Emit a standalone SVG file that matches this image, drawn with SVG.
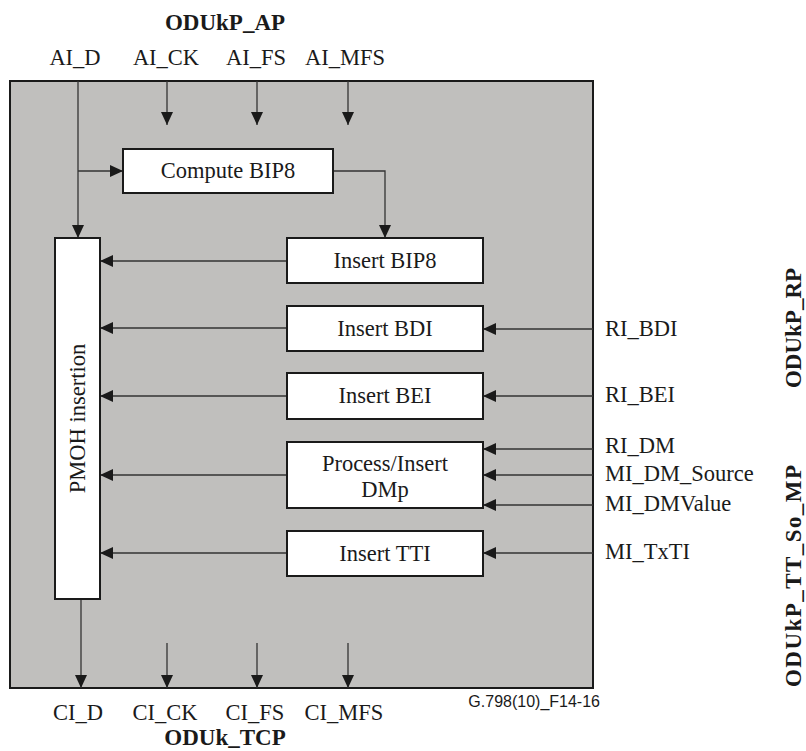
<svg xmlns="http://www.w3.org/2000/svg" width="806" height="751" viewBox="0 0 806 751">
<defs>
<marker id="ah" markerUnits="userSpaceOnUse" markerWidth="14" markerHeight="12" refX="13" refY="6" orient="auto">
<path d="M0,0 L13,6 L0,12 Z" fill="#1a1a1a"/>
</marker>
<style>
.t{font-family:"Liberation Serif","Times New Roman",serif;font-size:22.5px;fill:#1a1a1a}
.b{font-family:"Liberation Serif","Times New Roman",serif;font-size:23px;font-weight:bold;fill:#1a1a1a}
.s{font-family:"Liberation Sans",Arial,sans-serif;font-size:16px;fill:#1a1a1a}
.box{fill:#ffffff;stroke:#1a1a1a;stroke-width:2}
.ln{fill:none;stroke:#333333;stroke-width:1.3;marker-end:url(#ah)}
</style>
</defs>
<rect x="0" y="0" width="806" height="751" fill="#ffffff"/>
<g id="frame">
<rect x="10" y="81" width="583" height="607" fill="#c0bfbd" stroke="#1a1a1a" stroke-width="2"/>
</g>
<g id="connectors">
<path class="ln" d="M78,81 V238"/>
<path class="ln" d="M78,171 H123"/>
<path class="ln" d="M167,81 V125"/>
<path class="ln" d="M257,81 V125"/>
<path class="ln" d="M348,81 V125"/>
<path class="ln" d="M333,171 H385 V238"/>
<path class="ln" d="M287,261 H100"/>
<path class="ln" d="M287,328 H100"/>
<path class="ln" d="M287,396 H100"/>
<path class="ln" d="M287,475 H100"/>
<path class="ln" d="M287,553 H100"/>
<path class="ln" d="M593,329 H483"/>
<path class="ln" d="M593,396 H483"/>
<path class="ln" d="M593,449 H483"/>
<path class="ln" d="M593,475 H483"/>
<path class="ln" d="M593,505 H483"/>
<path class="ln" d="M593,553 H483"/>
<path class="ln" d="M81,599 V688"/>
<path class="ln" d="M167,643 V688"/>
<path class="ln" d="M257,643 V688"/>
<path class="ln" d="M348,643 V688"/>
</g>
<g id="compute-bip8">
<rect class="box" x="123" y="149" width="210" height="44"/>
<text class="t" x="228" y="178" text-anchor="middle">Compute BIP8</text>
</g>
<g id="insert-bip8">
<rect class="box" x="287" y="238" width="196" height="45"/>
<text class="t" x="385" y="268" text-anchor="middle">Insert BIP8</text>
</g>
<g id="insert-bdi">
<rect class="box" x="287" y="306" width="196" height="45"/>
<text class="t" x="385" y="336" text-anchor="middle">Insert BDI</text>
</g>
<g id="insert-bei">
<rect class="box" x="287" y="373" width="196" height="46"/>
<text class="t" x="385" y="403" text-anchor="middle">Insert BEI</text>
</g>
<g id="process-insert-dmp">
<rect class="box" x="287" y="442" width="196" height="66"/>
<text class="t" x="385" y="471" text-anchor="middle">Process/Insert</text>
<text class="t" x="385" y="497" text-anchor="middle">DMp</text>
</g>
<g id="insert-tti">
<rect class="box" x="287" y="531" width="196" height="45"/>
<text class="t" x="385" y="561" text-anchor="middle">Insert TTI</text>
</g>
<g id="pmoh">
<rect class="box" x="55" y="238" width="45" height="361"/>
<text class="t" transform="translate(85,418.5) rotate(-90)" text-anchor="middle">PMOH insertion</text>
</g>
<g id="labels">
<text class="b" x="225" y="30" text-anchor="middle">ODUkP_AP</text>
<text class="t" x="75" y="65" text-anchor="middle">AI_D</text>
<text class="t" x="166" y="65" text-anchor="middle">AI_CK</text>
<text class="t" x="256" y="65" text-anchor="middle">AI_FS</text>
<text class="t" x="345" y="65" text-anchor="middle">AI_MFS</text>
<text class="t" x="78" y="720" text-anchor="middle">CI_D</text>
<text class="t" x="165" y="720" text-anchor="middle">CI_CK</text>
<text class="t" x="255" y="720" text-anchor="middle">CI_FS</text>
<text class="t" x="344" y="720" text-anchor="middle">CI_MFS</text>
<text class="b" x="225" y="745" text-anchor="middle">ODUk_TCP</text>
<text class="t" x="605" y="336">RI_BDI</text>
<text class="t" x="605" y="402">RI_BEI</text>
<text class="t" x="605" y="453">RI_DM</text>
<text class="t" x="605" y="481">MI_DM_Source</text>
<text class="t" x="605" y="511">MI_DMValue</text>
<text class="t" x="605" y="559">MI_TxTI</text>
<text class="b" transform="translate(801,328) rotate(-90)" text-anchor="middle">ODUkP_RP</text>
<text class="b" transform="translate(801,576) rotate(-90)" text-anchor="middle" textLength="222" lengthAdjust="spacing">ODUkP_TT_So_MP</text>
<text class="s" x="600" y="707" text-anchor="end">G.798(10)_F14-16</text>
</g>
</svg>
